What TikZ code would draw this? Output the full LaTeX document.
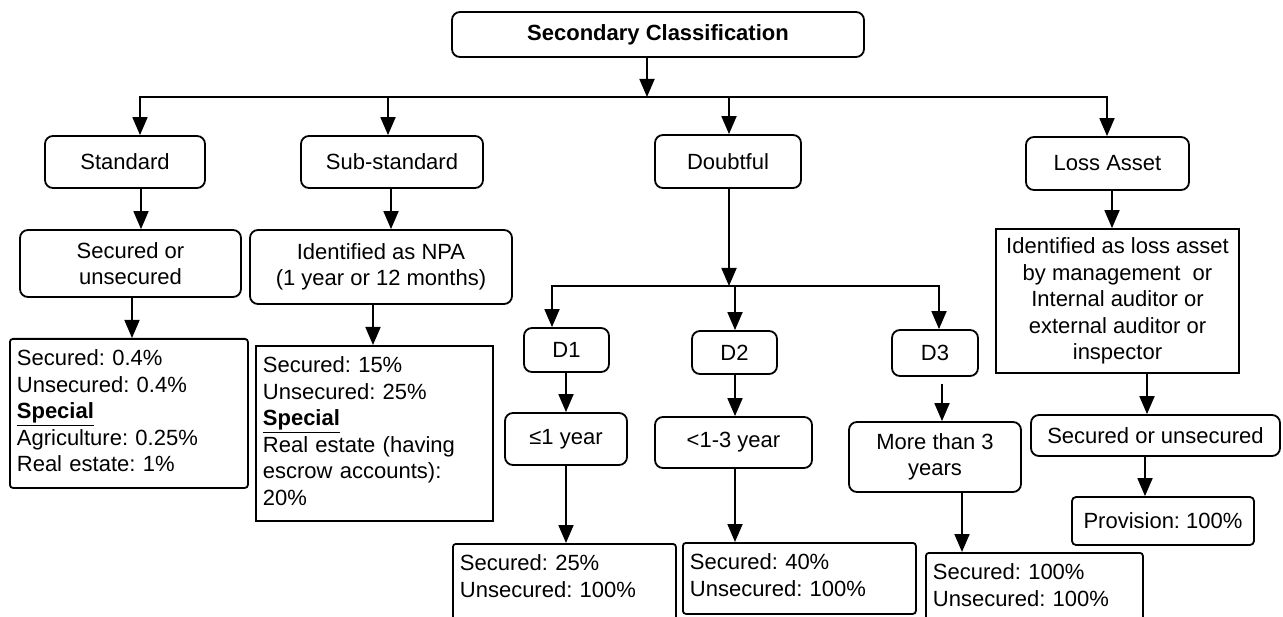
\documentclass[tikz,border=0pt]{standalone}
\usepackage{fontspec}
\setmainfont{Liberation Sans}
\usetikzlibrary{arrows.meta, positioning}
\frenchspacing

\begin{document}
\begin{tikzpicture}[x=1pt, y=-1pt, line width=1.8pt,
  every node/.style={font=\fontsize{22}{26.5}\selectfont},
  classbox/.style={draw, rounded corners=8pt, align=center, inner sep=2pt},
  ratebox/.style={draw, rounded corners=3pt, align=left, anchor=north west, inner xsep=7pt, inner ysep=11pt, text height=16pt},
  arr/.style={-{Triangle[width=15pt, length=18pt]}}]
  \useasboundingbox (0,0) rectangle (1283,617);

  % Top
  \node[classbox, minimum width=412pt, minimum height=45pt, font=\fontsize{22}{26.5}\selectfont\bfseries] (title) at (658,34.5) {Secondary Classification};

  % Classes
  \node[classbox, minimum width=160pt, minimum height=52pt] (std) at (125,162) {Standard};
  \node[classbox, minimum width=182pt, minimum height=52pt] (sub) at (392,162) {Sub-standard};
  \node[classbox, minimum width=146pt, minimum height=53pt] (doubt) at (728,161.5) {Doubtful};
  \node[classbox, minimum width=163pt, minimum height=53pt] (loss) at (1107.5,163.5) {Loss Asset};

  % Second level
  \node[classbox, minimum width=221pt, minimum height=67pt] (stdsec) at (130.5,263.5) {Secured or\\unsecured};
  \node[classbox, minimum width=262pt, minimum height=74pt] (npa) at (381,267) {Identified as NPA\\(1 year or 12 months)};
  \node[classbox, sharp corners, minimum width=243pt, minimum height=144pt] (lossid) at (1117.5,301) {Identified as loss asset\\by management\ \ or\\Internal auditor or\\external auditor or\\inspector};

  % Doubtful groups
  \node[classbox, minimum width=85pt, minimum height=44pt] (d1) at (566.5,350) {D1};
  \node[classbox, minimum width=85pt, minimum height=43pt] (d2) at (734.5,352.5) {D2};
  \node[classbox, minimum width=86pt, minimum height=46pt] (d3) at (935,353) {D3};
  \node[classbox, minimum width=122pt, minimum height=52pt] (y1) at (566,439) {≤1 year};
  \node[classbox, minimum width=157pt, minimum height=51pt] (y13) at (733.5,442.5) {<1-3 year};
  \node[classbox, minimum width=172pt, minimum height=70pt] (y3) at (935,457) {More than 3\\years};

  % Loss asset
  \node[classbox, minimum width=249pt, minimum height=41pt] (lossec) at (1155.5,435.5) {Secured or unsecured};
  \node[classbox, rounded corners=4pt, minimum width=182pt, minimum height=48pt] (prov) at (1163,521) {Provision: 100\%};

  % Rates
  \node[ratebox, text width=224pt, text depth=111pt] (stdrate) at (9,338) {Secured: 0.4\%\\Unsecured: 0.4\%\\\underline{\textbf{Special}}\\Agriculture: 0.25\%\\Real estate: 1\%};
  \node[ratebox, sharp corners, text width=223pt, text depth=137pt] (subrate) at (255,345) {Secured: 15\%\\Unsecured: 25\%\\\underline{\textbf{Special}}\\Real estate (having\\escrow accounts):\\20\%};
  \node[ratebox, text width=209pt, text depth=55pt] (d1rate) at (452,543) {Secured: 25\%\\Unsecured: 100\%};
  \node[ratebox, text width=219pt, text depth=33pt] (d2rate) at (682,542) {Secured: 40\%\\Unsecured: 100\%};
  \node[ratebox, text width=203pt, text depth=45pt] (d3rate) at (925,552) {Secured: 100\%\\Unsecured: 100\%};

  % Branches from top
  \coordinate (hub) at (647,97);
  \coordinate (barL) at (140,97);
  \coordinate (barR) at (1107,97);
  \draw[arr] (title.south -| hub) -- (hub);
  \draw[line cap=rect] (barL) -- (barR);
  \draw[arr] (barL) -- (barL |- std.north);
  \draw[arr] (hub -| 388,0) -- (sub.north -| 388,0);
  \draw[arr] (hub -| 729,0) -- (doubt.north -| 729,0);
  \draw[arr] (barR) -- (barR |- loss.north);

  \draw[arr] (std.south -| 141,0) -- (stdsec.north -| 141,0);
  \draw[arr] (sub.south -| 391,0) -- (npa.north -| 391,0);
  \draw[arr] (loss.south -| 1112,0) -- (lossid.north -| 1112,0);
  \draw[arr] (stdsec.south -| 132,0) -- (stdrate.north -| 132,0);
  \draw[arr] (npa.south -| 373,0) -- (subrate.north -| 373,0);

  % Branches from doubtful
  \coordinate (hub2) at (729,286);
  \coordinate (bar2L) at (552,286);
  \coordinate (bar2R) at (939,286);
  \draw[arr] (doubt.south -| hub2) -- (hub2);
  \draw[line cap=rect] (bar2L) -- (bar2R);
  \draw[arr] (bar2L) -- (bar2L |- d1.north);
  \draw[arr] (hub2 -| 735,0) -- (d2.north -| 735,0);
  \draw[arr] (bar2R) -- (bar2R |- d3.north);

  \draw[arr] (d1.south -| 566,0) -- (y1.north -| 566,0);
  \draw[arr] (d2.south -| 735,0) -- (y13.north -| 735,0);
  \draw[arr, shorten <=7pt] (d3.south -| 942,0) -- (y3.north -| 942,0);
  \draw[arr] (y1.south -| 566,0) -- (d1rate.north -| 566,0);
  \draw[arr] (y13.south -| 735,0) -- (d2rate.north -| 735,0);
  \draw[arr] (y3.south -| 962,0) -- (d3rate.north -| 962,0);

  % Loss asset chain
  \draw[arr] (lossid.south -| 1147,0) -- (lossec.north -| 1147,0);
  \draw[arr] (lossec.south -| 1145,0) -- (prov.north -| 1145,0);
\end{tikzpicture}
\end{document}
